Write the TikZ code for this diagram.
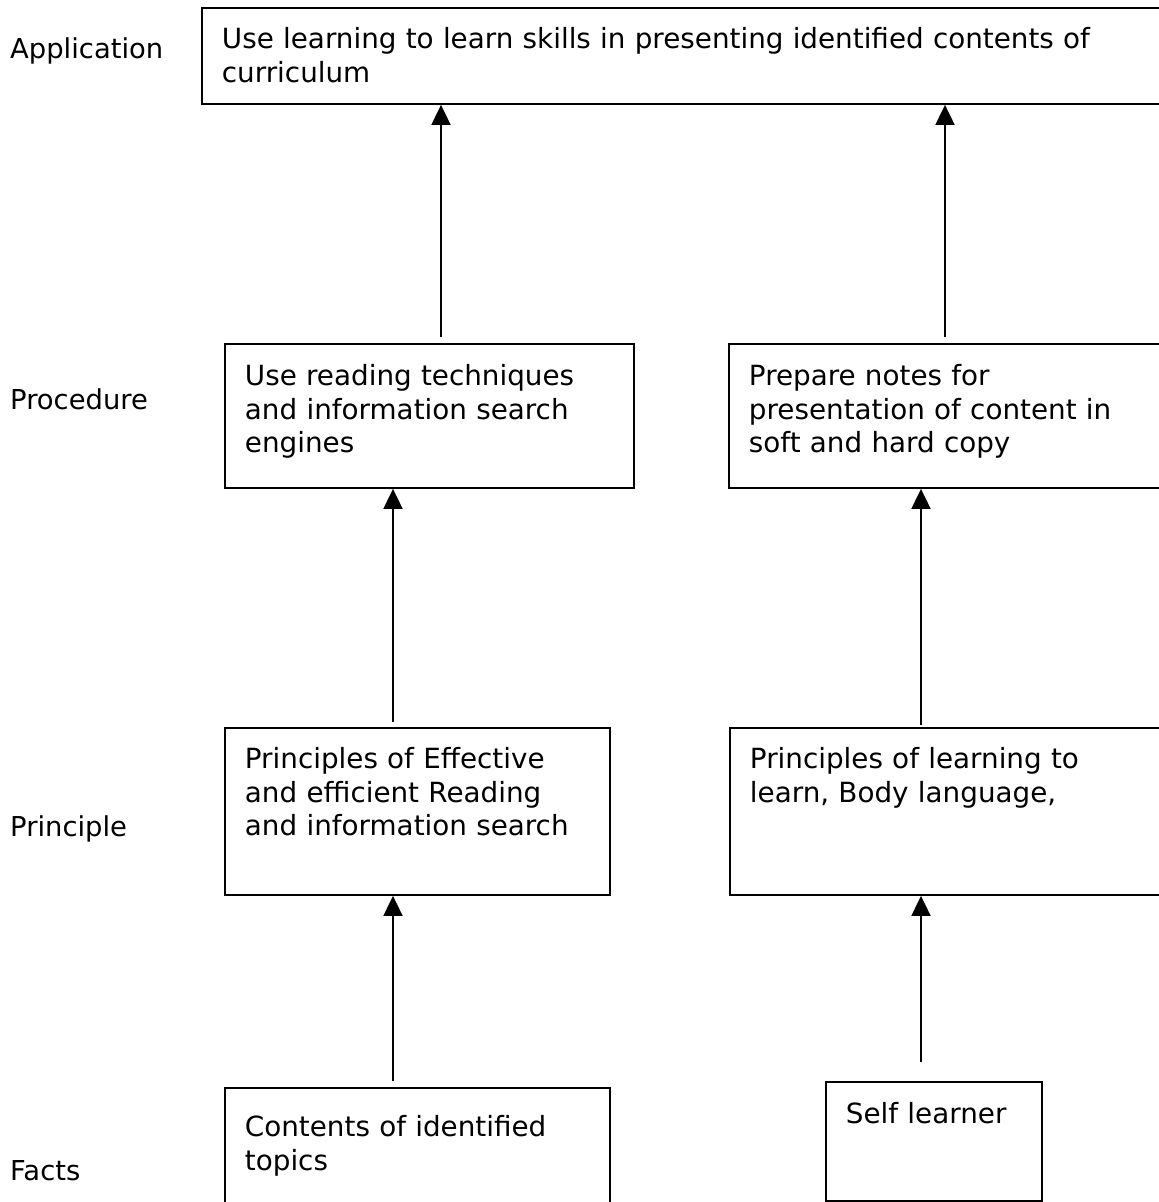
\documentclass[tikz,border=0pt]{standalone}
\usepackage{fontspec}
\setmainfont{DejaVu Sans}
\usetikzlibrary{arrows.meta}

\tikzset{
  stage/.style={draw, line width=1.9pt, rectangle, anchor=north west, align=left,
    inner xsep=20pt, inner ysep=0pt, text height=42pt,
    font=\fontsize{27.8}{33.5}\selectfont},
  level/.style={anchor=base west, inner sep=0pt, font=\fontsize{27.4}{33.5}\selectfont},
  flow/.style={line width=1.9pt, -{Triangle[width=19pt,length=20pt]}}
}

\begin{document}
\begin{tikzpicture}[x=1pt,y=-1pt]
\useasboundingbox (0,0) rectangle (1159,1202);
% level names
\node[level] (lapp) at (10,58) {Application};
\node[level] (lproc) at (10,409) {Procedure};
\node[level] (lprin) at (10,836) {Principle};
\node[level] (lfact) at (10,1180) {Facts};
% boxes
\node[stage, text width=1000pt, text height=41pt, text depth=55pt] (appl) at (201,7)
  {Use learning to learn skills in presenting identified contents of\\curriculum};
\node[stage, text width=369pt, text depth=102pt] (procl) at (224,343)
  {Use reading techniques\\and information search\\engines};
\node[stage, text width=1000pt, text depth=102pt] (procr) at (728,343)
  {Prepare notes for\\presentation of content in\\soft and hard copy};
\node[stage, text width=345pt, text height=41pt, text depth=126pt] (prinl) at (224,727)
  {Principles of Effective\\and efficient Reading\\and information search};
\node[stage, text width=1000pt, text height=41pt, text depth=126pt] (prinr) at (729,727)
  {Principles of learning to\\learn, Body language,};
\node[stage, text width=345pt, text height=49pt, text depth=90pt] (factl) at (224,1087)
  {Contents of identified\\topics};
\node[stage, text width=176pt, text depth=77pt] (factr) at (825,1081)
  {Self learner};
% arrows
\coordinate (t1) at (441,337);
\coordinate (t2) at (945,337);
\coordinate (t3) at (393,722);
\coordinate (t4) at (921,725);
\coordinate (t5) at (393,1081);
\coordinate (t6) at (921,1062);
\draw[flow] (t1) -- (t1 |- appl.south);
\draw[flow] (t2) -- (t2 |- appl.south);
\draw[flow] (t3) -- (t3 |- procl.south);
\draw[flow] (t4) -- (t4 |- procr.south);
\draw[flow] (t5) -- (t5 |- prinl.south);
\draw[flow] (t6) -- (t6 |- prinr.south);
\end{tikzpicture}
\end{document}
